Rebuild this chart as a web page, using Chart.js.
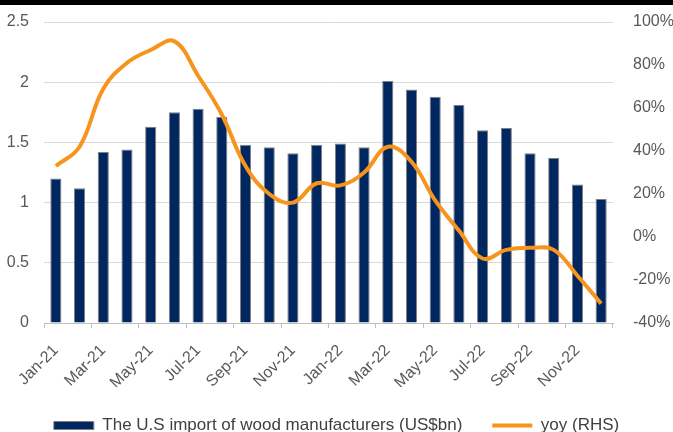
<!DOCTYPE html>
<html>
<head>
<meta charset="utf-8">
<script src="https://cdn.jsdelivr.net/npm/chart.js@4/dist/chart.umd.min.js"></script>
<style>
  body { margin: 0; background: #fff; }
  #wrap { width: 673px; height: 432px; position: relative; }
</style>
</head>
<body>
<div id="wrap"><canvas id="chart"></canvas></div>
<script>
const months = ['Jan-21','Feb-21','Mar-21','Apr-21','May-21','Jun-21','Jul-21','Aug-21','Sep-21','Oct-21','Nov-21','Dec-21',
                'Jan-22','Feb-22','Mar-22','Apr-22','May-22','Jun-22','Jul-22','Aug-22','Sep-22','Oct-22','Nov-22','Dec-22'];
const imports = [1.20,1.12,1.42,1.44,1.63,1.75,1.78,1.71,1.48,1.46,1.41,1.48,
                 1.49,1.46,2.01,1.94,1.88,1.81,1.60,1.62,1.41,1.37,1.15,1.03];
const yoy = [33,42,69,81,87,91,75,57,33,20,16,25,
             24,30,42,35,17,3,-10,-6,-5,-6,-18,-31];
const leftTicks = [0, 0.5, 1, 1.5, 2, 2.5];
const rightTicks = [-40, -20, 0, 20, 40, 60, 80, 100];

const FONT = "'Liberation Sans', Arial, sans-serif";

// black strip across the top of the picture
const topStrip = {
    id: 'topStrip',
    beforeDraw(chart) {
        const ctx = chart.ctx;
        ctx.save();
        ctx.fillStyle = '#000';
        ctx.fillRect(0, 0, chart.width, 5);
        ctx.restore();
    }
};

new Chart(document.getElementById('chart'), {
    type: 'bar',
    data: {
        labels: months,
        datasets: [
            {
                label: 'The U.S import of wood manufacturers (US$bn)',
                data: imports,
                backgroundColor: '#002760',
                borderColor: '#808080',
                borderWidth: 1,
                barPercentage: 0.47,
                categoryPercentage: 1,
                yAxisID: 'y',
                order: 1,
                pointStyle: 'rect'
            },
            {
                type: 'line',
                label: 'yoy (RHS)',
                data: yoy,
                borderColor: '#F7941D',
                backgroundColor: '#F7941D',
                borderWidth: 4,
                pointRadius: 0,
                tension: 0.4,
                yAxisID: 'y1',
                order: 0,
                pointStyle: 'line'
            }
        ]
    },
    options: {
        responsive: true,
        maintainAspectRatio: false,
        animation: false,
        layout: { padding: { top: 22, left: 0, right: 0, bottom: -12 } },
        plugins: {
            tooltip: { enabled: false },
            legend: {
                position: 'bottom',
                labels: {
                    usePointStyle: true,
                    pointStyleWidth: 40,
                    boxWidth: 40,
                    boxHeight: 8,
                    padding: 30,
                    color: '#404040',
                    font: { family: FONT, size: 17 },
                    sort: (a, b) => a.datasetIndex - b.datasetIndex
                }
            }
        },
        scales: {
            x: {
                offset: true,
                grid: {
                    offset: true,
                    drawOnChartArea: false,
                    tickLength: 5,
                    color: c => (c.index === undefined || c.index % 2 === 0) ? '#bfbfbf' : 'rgba(0,0,0,0)'
                },
                border: { color: '#bfbfbf' },
                ticks: {
                    autoSkip: false,
                    maxRotation: 45,
                    minRotation: 45,
                    padding: 13,
                    color: '#595959',
                    font: { family: FONT, size: 16 },
                    callback: (v, i) => i % 2 === 0 ? months[i] : ''
                },
                afterFit: s => { s.height = 64; }
            },
            y: {
                position: 'left',
                min: 0,
                max: 2.5,
                afterBuildTicks: s => { s.ticks = leftTicks.map(v => ({ value: v })); },
                grid: { color: '#d9d9d9', tickLength: 15, tickColor: 'rgba(0,0,0,0)' },
                border: { display: false },
                ticks: {
                    padding: 0,
                    color: '#595959',
                    font: { family: FONT, size: 16 },
                    callback: v => String(v)
                },
                afterFit: s => { s.width = 44; }
            },
            y1: {
                position: 'right',
                min: -40,
                max: 100,
                afterBuildTicks: s => { s.ticks = rightTicks.map(v => ({ value: v })); },
                grid: { drawOnChartArea: false, tickLength: 20, tickColor: 'rgba(0,0,0,0)' },
                border: { display: false },
                ticks: {
                    padding: 0,
                    color: '#595959',
                    font: { family: FONT, size: 16 },
                    callback: v => v + '%'
                },
                afterFit: s => { s.width = 60; }
            }
        }
    },
    plugins: [topStrip]
});
</script>
</body>
</html>
